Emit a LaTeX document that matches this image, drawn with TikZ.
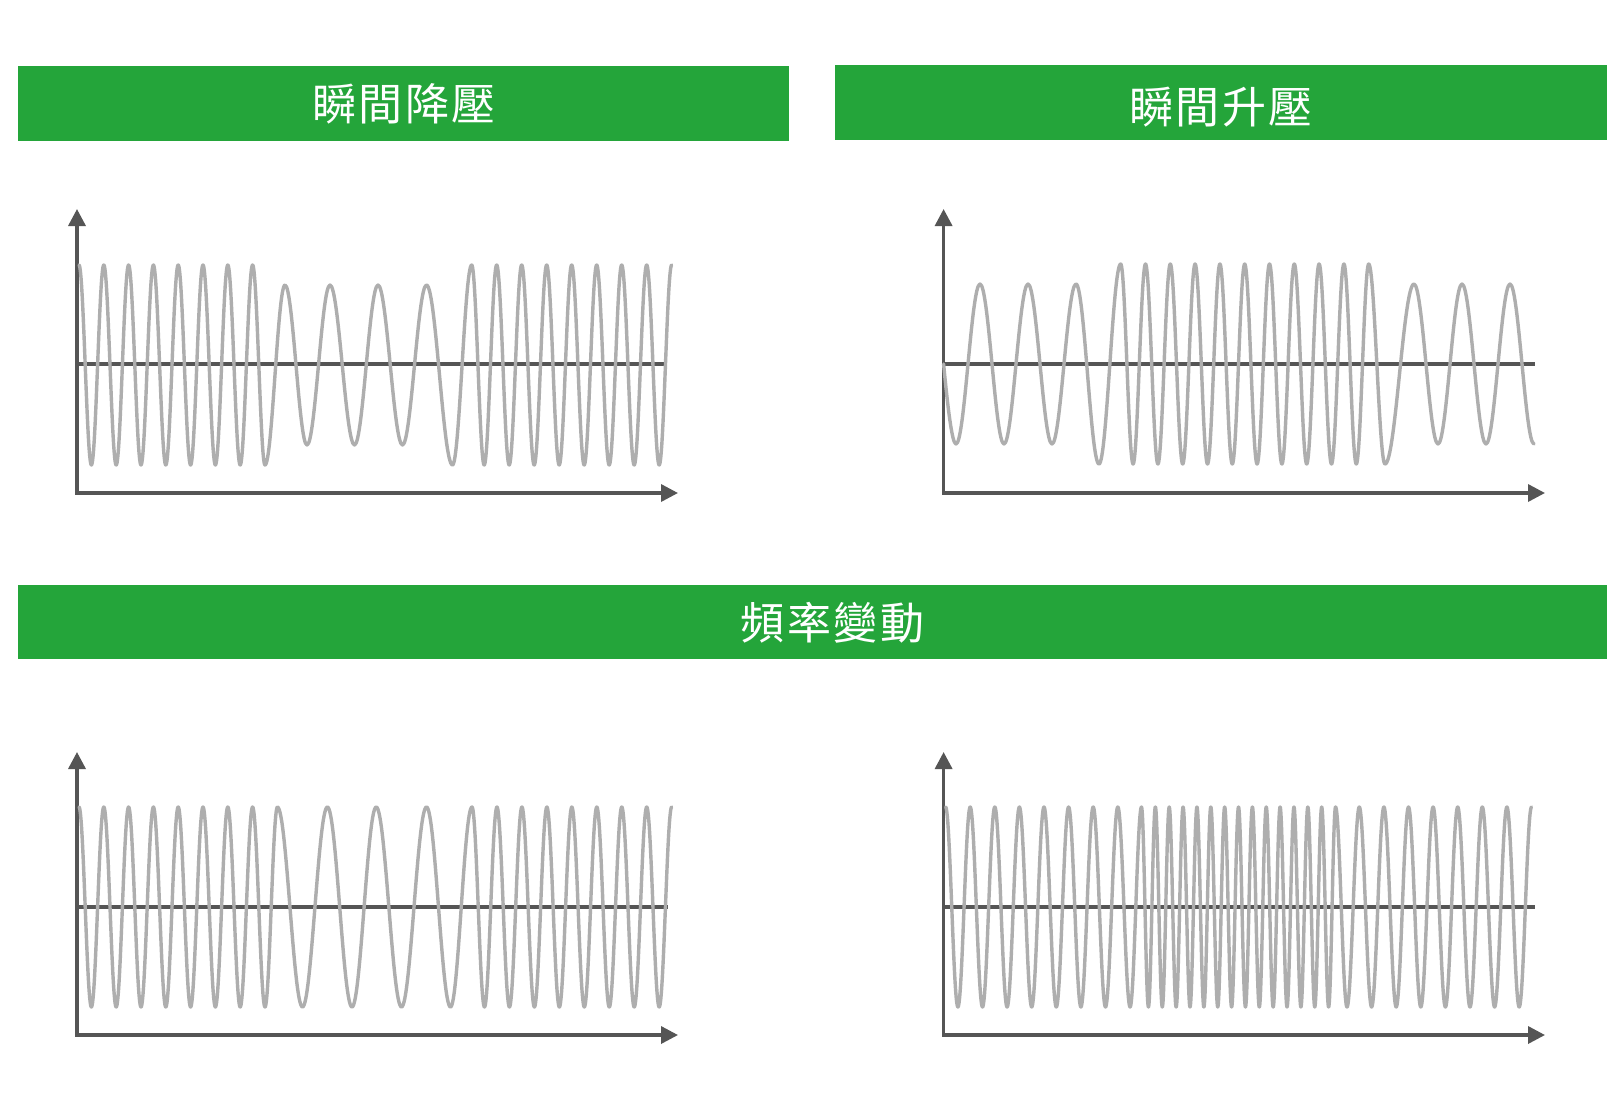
\documentclass[tikz,border=0pt]{standalone}
\usepackage{fontspec}
\newfontfamily\cjk[LetterSpace=6]{Noto Sans CJK TC}
\usetikzlibrary{arrows.meta}
\definecolor{bargreen}{RGB}{36,165,58}
\definecolor{axisgray}{RGB}{85,85,85}
\definecolor{wavegray}{RGB}{174,174,174}
\gdef\wavelist{}
\newcommand\addext[2]{\ifx\wavelist\empty\xdef\wavelist{#1/#2}\else\xdef\wavelist{\wavelist,#1/#2}\fi}
\newcommand\addrun[4]{%
  \pgfmathtruncatemacro\runlast{#3-1}%
  \foreach \k in {0,...,\runlast}{%
    \pgfmathsetmacro\xk{#1+\k*#2}%
    \pgfmathsetmacro\ok{#4*(1-2*mod(\k,2))}%
    \addext{\xk}{\ok}%
  }%
}
% #1 centre y, #2 remembered start x, #3 remembered start offset, #4 path start
\newcommand\wavedraw[4]{%
  \draw[wave] #4
    \foreach \xx/\oo [remember=\xx as \lx (initially #2), remember=\oo as \lo (initially #3)] in \wavelist
      { .. controls ({\lx+0.3634*(\xx-\lx)},{#1+(\lo)}) and ({\xx-0.3634*(\xx-\lx)},{#1+(\oo)}) .. (\xx,{#1+(\oo)}) };
}
\tikzset{
  bar/.style={fill=bargreen, draw=none, inner sep=0pt, outer sep=0pt},
  title/.style={text=white, font=\cjk\fontsize{44}{50}\selectfont, inner sep=0pt},
  axis/.style={draw=axisgray, line width=3.4pt, line join=miter,
    {Triangle[width=17pt,length=17pt]}-{Triangle[width=17pt,length=17pt]}},
  midline/.style={draw=axisgray, line width=3.4pt},
  wave/.style={draw=wavegray, line width=3.4pt, line join=round, line cap=round},
}
\begin{document}
\begin{tikzpicture}[x=1pt,y=-1pt]
\fill[white] (0,0) rectangle (1622,1119);
\useasboundingbox (0,0) rectangle (1622,1119);

% title bars
\node[bar, minimum width=771.4pt, minimum height=75pt] (bar1) at (403.3,103.5) {};
\node[bar, minimum width=772pt, minimum height=75pt] (bar2) at (1221,102.5) {};
\node[bar, minimum width=1589.4pt, minimum height=74pt] (bar3) at (812.3,622) {};
\node[title] (t1) at (404,104) {瞬間降壓};
\node[title] (t2) at (1221,107) {瞬間升壓};
\node[title] (t3) at (832.5,623) {頻率變動};

% axes coordinates
\coordinate (tl-y) at (77,209);   \coordinate (tl-o) at (77,493);   \coordinate (tl-x) at (678,493);
\coordinate (tr-y) at (943.6,209);\coordinate (tr-o) at (943.6,493);\coordinate (tr-x) at (1545,493);
\coordinate (bl-y) at (77,752);   \coordinate (bl-o) at (77,1035);  \coordinate (bl-x) at (678,1035);
\coordinate (br-y) at (943.6,752);\coordinate (br-o) at (943.6,1035);\coordinate (br-x) at (1545,1035);
\coordinate (tl-c0) at (77,364);    \coordinate (tl-c1) at (666,364);
\coordinate (tr-c0) at (943.6,364); \coordinate (tr-c1) at (1535,364);
\coordinate (bl-c0) at (77,907);    \coordinate (bl-c1) at (668,907);
\coordinate (br-c0) at (943.6,907); \coordinate (br-c1) at (1535,907);

\draw[axis] (tl-y) -- (tl-o) -- (tl-x);
\draw[axis] (tr-y) -- (tr-o) -- (tr-x);
\draw[axis] (bl-y) -- (bl-o) -- (bl-x);
\draw[axis] (br-y) -- (br-o) -- (br-x);
\draw[midline] (tl-c0) -- (tl-c1);
\draw[midline] (tr-c0) -- (tr-c1);
\draw[midline] (bl-c0) -- (bl-c1);
\draw[midline] (br-c0) -- (br-c1);

% top-left: voltage dip
\gdef\wavelist{}
\addrun{91.4}{12.4}{15}{100}
\addext{285}{-80}\addext{307}{80}\addext{330}{-80}\addext{354.5}{80}
\addext{378}{-80}\addext{402.5}{80}\addext{426.5}{-80}\addext{452.5}{100}
\addrun{471.7}{12.5}{17}{-100}
\wavedraw{365}{79}{-100}{(79,265)}

% top-right: voltage swell
\gdef\wavelist{}
\addrun{980}{24}{5}{-80}
\addext{1099}{100}
\addrun{1120.7}{12.4}{21}{-100}
\addext{1385}{100}
\addrun{1414}{24}{6}{-80}
\wavedraw{364}{956}{80}{(943.6,364) .. controls (947.6,405.9) and (952,444) .. (956,444)}

% bottom-left: frequency change (slower)
\gdef\wavelist{}
\addrun{91.4}{12.4}{16}{100}
\addext{302.5}{100}\addext{327.4}{-100}\addext{352}{100}\addext{376.2}{-100}
\addext{401.5}{100}\addext{426.5}{-100}\addext{450.5}{100}
\addrun{472}{12.48}{17}{-100}
\wavedraw{907}{79}{-100}{(79,807)}

% bottom-right: frequency change (faster)
\gdef\wavelist{}
\addrun{957.9}{12.3}{15}{100}
\addrun{1141.5}{6.93}{29}{-100}
\addrun{1347}{12.3}{16}{100}
\wavedraw{907}{945.6}{-100}{(945.6,807)}
\end{tikzpicture}
\end{document}
